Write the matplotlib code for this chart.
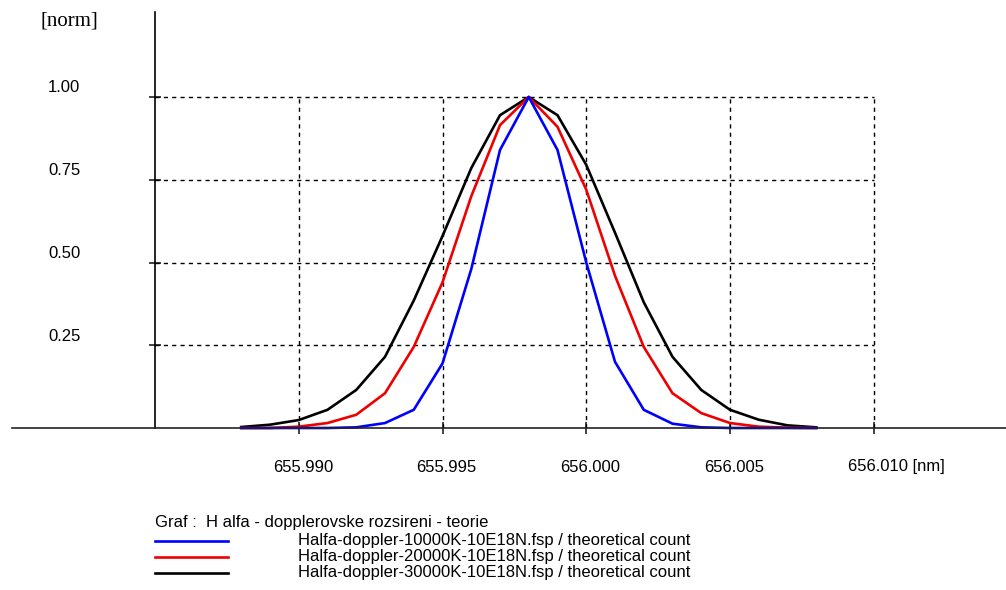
import matplotlib.pyplot as plt
from matplotlib.lines import Line2D

# data (normalised intensity, step 0.001 nm)
vlnova_delka = [655.988, 655.989, 655.990, 655.991, 655.992, 655.993, 655.994,
                655.995, 655.996, 655.997, 655.998, 655.999, 656.000, 656.001,
                656.002, 656.003, 656.004, 656.005, 656.006, 656.007, 656.008]
modra_10000K = [0, 0, 0, 0, 0.002, 0.015, 0.055, 0.195, 0.48, 0.84, 1.0,
                0.84, 0.50, 0.20, 0.055, 0.013, 0.002, 0, 0, 0, 0]
cervena_20000K = [0, 0, 0.004, 0.015, 0.04, 0.105, 0.245, 0.44, 0.70, 0.915, 1.0,
                  0.91, 0.72, 0.46, 0.245, 0.105, 0.045, 0.015, 0.004, 0.001, 0]
cerna_30000K = [0.003, 0.01, 0.024, 0.055, 0.115, 0.215, 0.385, 0.58, 0.785, 0.945, 1.0,
                0.945, 0.795, 0.59, 0.38, 0.215, 0.115, 0.055, 0.025, 0.008, 0.002]

serie = [
    ("Halfa-doppler-10000K-10E18N.fsp / theoretical count", modra_10000K, "#0000ff"),
    ("Halfa-doppler-20000K-10E18N.fsp / theoretical count", cervena_20000K, "#ee0000"),
    ("Halfa-doppler-30000K-10E18N.fsp / theoretical count", cerna_30000K, "black"),
]

x_ticks = [655.990, 655.995, 656.000, 656.005, 656.010]
x_popisky = ["655.990", "655.995", "656.000", "656.005", "656.010 [nm]"]
y_ticks = [0.25, 0.50, 0.75, 1.00]
y_popisky = ["0.25", "0.50", "0.75", "1.00"]
nadpis = "Graf :  H alfa - dopplerovske rozsireni - teorie"

W, H = 1006, 590
fig = plt.figure(figsize=(W / 100, H / 100), dpi=100)
plt.rcParams['font.family'] = ['Liberation Sans', 'DejaVu Sans']

# axes: y spine at px 155, x axis at px 428, top at px 12
ax = fig.add_axes([155 / W, (H - 428) / H, (W - 155) / W, (428 - 12) / H])
px_nm = 28.75 / 0.001
x0 = 655.985
ax.set_xlim(x0, x0 + (W - 155) / px_nm)
ax.set_ylim(0, 416 / 331)

for s in ["top", "right", "bottom"]:
    ax.spines[s].set_visible(False)
ax.spines["left"].set_linewidth(1.2)

# x axis runs over the whole width
fig.add_artist(Line2D([12 / W, 1.0], [(H - 428) / H] * 2, color="#222222", lw=1.2))

# dashed grid, bounded by the last ticks
ax.hlines(y_ticks, x0, x_ticks[-1], colors="black", linestyles=(0, (3, 3)), lw=1)
ax.vlines(x_ticks, 0, 1.0, colors="black", linestyles=(0, (3, 3)), lw=1)

ax.set_xticks(x_ticks)
ax.set_yticks(y_ticks)
ax.set_xticklabels([])
ax.set_yticklabels([])
ax.tick_params(axis="both", direction="inout", length=9, width=1.2, color="#222222")

# curves, black underneath
for popis, hodnoty, barva in reversed(serie):
    ax.plot(vlnova_delka, hodnoty, color=barva, lw=1.9, clip_on=False, zorder=3)

# tick labels
for x, t in zip(x_ticks, x_popisky):
    xp = 155 + (x - x0) * px_nm
    fig.text((xp - 26) / W, 1 - 467 / H, t, fontsize=12, va="center", ha="left")
for y, t in zip(y_ticks, y_popisky):
    yp = 428 - y * 331
    fig.text(48 / W, 1 - (yp - 9) / H, t, fontsize=12, va="center", ha="left")

fig.text(40 / W, 1 - 21 / H, "[norm]", fontsize=15, family="Liberation Serif",
         va="center", ha="left")

# legend
fig.text(155 / W, 1 - 522 / H, nadpis, fontsize=12, va="center", ha="left")
for i, (popis, hodnoty, barva) in enumerate(serie):
    yl = 541 + 16 * i
    fig.add_artist(Line2D([155 / W, 228 / W], [1 - yl / H] * 2, color=barva, lw=1.9))
    fig.text(298 / W, 1 - (yl - 1) / H, popis, fontsize=12, va="center", ha="left")

fig.savefig("out.png", dpi=100)
